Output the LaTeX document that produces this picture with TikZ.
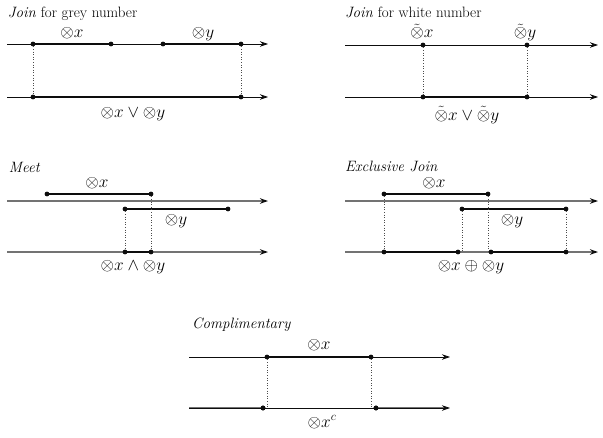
\documentclass[tikz,border=0pt]{standalone}
\usepackage{amsmath,amssymb}
\usetikzlibrary{arrows.meta}
\definecolor{OpInk}{gray}{0.05}
\definecolor{OpAxisGrey}{gray}{0.45}
\definecolor{OpGuide}{gray}{0.30}
\tikzset{
    ops/diagram/.style={
        x=1pt, y=-1pt,
        font=\fontsize{15}{18}\selectfont,
        line join=round,
        every node/.style={inner sep=0pt, outer sep=0pt}
    },
    ops/axis/.style={
        draw=OpInk, line width=0.7pt,
        -{Stealth[length=8pt, width=5.5pt]}
    },
    ops/greyaxis/.style={
        draw=OpAxisGrey, line width=1.3pt,
        -{Stealth[length=8pt, width=5.5pt, color=OpInk]}
    },
    ops/interval/.style={draw=OpInk, line width=1.3pt},
    ops/complement/.style={draw=OpAxisGrey, line width=1.5pt},
    ops/guide/.style={draw=OpGuide, line width=0.6pt, dotted},
    ops/point/.style={circle, fill=OpInk, draw=none, inner sep=1.7pt},
    ops/title/.style={anchor=base west},
    ops/label/.style={anchor=base, font=\fontsize{17}{20}\selectfont}
}

\begin{document}
\begin{tikzpicture}[ops/diagram]
    \useasboundingbox (0,0) rectangle (603,437);

    % join for grey number
    \node[ops/title] (tJoinGrey) at (8,17) {\textit{Join} for grey number};
    \coordinate (gA0) at (7,44);  \coordinate (gA1) at (268,44);
    \coordinate (gB0) at (7,97);  \coordinate (gB1) at (268,97);
    \draw[ops/axis] (gA0) -- (gA1);
    \draw[ops/axis] (gB0) -- (gB1);
    \node[ops/point] (gx1) at (33,44) {};
    \node[ops/point] (gx2) at (111,44) {};
    \node[ops/point] (gy1) at (163,44) {};
    \node[ops/point] (gy2) at (241,44) {};
    \node[ops/point] (gj1) at (33,97) {};
    \node[ops/point] (gj2) at (241,97) {};
    \draw[ops/interval] (gx1.center) -- (gx2.center);
    \draw[ops/interval] (gy1.center) -- (gy2.center);
    \draw[ops/interval] (gj1.center) -- (gj2.center);
    \draw[ops/guide] (gx1) -- (gj1);
    \draw[ops/guide] (gy2) -- (gj2);
    \node[ops/label] (lgx) at (72,37.5) {$\otimes x$};
    \node[ops/label] (lgy) at (203,37.5) {$\otimes y$};
    \node[ops/label] (lgj) at (133,117) {$\otimes x\vee\otimes y$};

    % join for white number
    \node[ops/title] (tJoinWhite) at (345,17) {\textit{Join} for white number};
    \coordinate (wA0) at (345,45);  \coordinate (wA1) at (598,45);
    \coordinate (wB0) at (345,97);  \coordinate (wB1) at (598,97);
    \draw[ops/axis] (wA0) -- (wA1);
    \draw[ops/axis] (wB0) -- (wB1);
    \node[ops/point] (wx) at (423,45) {};
    \node[ops/point] (wy) at (527,45) {};
    \node[ops/point] (wj1) at (423,97) {};
    \node[ops/point] (wj2) at (527,97) {};
    \draw[ops/interval] (wj1.center) -- (wj2.center);
    \draw[ops/guide] (wx) -- (wj1);
    \draw[ops/guide] (wy) -- (wj2);
    \node[ops/label] (lwx) at (422,37.7) {$\tilde{\otimes}x$};
    \node[ops/label] (lwy) at (525,37.7) {$\tilde{\otimes}y$};
    \node[ops/label] (lwj) at (467,120) {$\tilde{\otimes}x\vee\tilde{\otimes}y$};

    % meet
    \node[ops/title] (tMeet) at (9,172) {\textit{Meet}};
    \coordinate (mA0) at (7,201);  \coordinate (mA1) at (268,201);
    \coordinate (mB0) at (7,252);  \coordinate (mB1) at (268,252);
    \draw[ops/greyaxis] (mA0) -- (mA1);
    \draw[ops/greyaxis] (mB0) -- (mB1);
    \node[ops/point] (mx1) at (47,194) {};
    \node[ops/point] (mx2) at (151,194) {};
    \node[ops/point] (my1) at (125,209) {};
    \node[ops/point] (my2) at (228,209) {};
    \node[ops/point] (mm1) at (125,252) {};
    \node[ops/point] (mm2) at (151,252) {};
    \draw[ops/interval] (mx1.center) -- (mx2.center);
    \draw[ops/interval] (my1.center) -- (my2.center);
    \draw[ops/interval] (mm1.center) -- (mm2.center);
    \draw[ops/guide] (mx2) -- (mm2);
    \draw[ops/guide] (my1) -- (mm1);
    \node[ops/label] (lmx) at (97,187) {$\otimes x$};
    \node[ops/label] (lmy) at (176,224) {$\otimes y$};
    \node[ops/label] (lmm) at (133,270) {$\otimes x\wedge\otimes y$};

    % exclusive join
    \node[ops/title] (tExcl) at (345,171) {\textit{Exclusive Join}};
    \coordinate (eA0) at (345,201);  \coordinate (eA1) at (598,201);
    \coordinate (eB0) at (345,252);  \coordinate (eB1) at (598,252);
    \draw[ops/greyaxis] (eA0) -- (eA1);
    \draw[ops/greyaxis] (eB0) -- (eB1);
    \node[ops/point] (ex1) at (384,194) {};
    \node[ops/point] (ex2) at (488,194) {};
    \node[ops/point] (ey1) at (462,209) {};
    \node[ops/point] (ey2) at (566,209) {};
    \node[ops/point] (ej1) at (384,252) {};
    \node[ops/point] (ej2) at (458,252) {};
    \node[ops/point] (ej3) at (491,252) {};
    \node[ops/point] (ej4) at (566,252) {};
    \draw[ops/interval] (ex1.center) -- (ex2.center);
    \draw[ops/interval] (ey1.center) -- (ey2.center);
    \draw[ops/interval] (ej1.center) -- (ej2.center);
    \draw[ops/interval] (ej3.center) -- (ej4.center);
    \draw[ops/guide] (ex1) -- (ej1);
    \draw[ops/guide] (ey1) -- (ey1 |- eB0);
    \draw[ops/guide] (ex2) -- (ex2 |- eB0);
    \draw[ops/guide] (ey2) -- (ej4);
    \node[ops/label] (lex) at (434,187) {$\otimes x$};
    \node[ops/label] (ley) at (512,224) {$\otimes y$};
    \node[ops/label] (lej) at (471,270) {$\otimes x\oplus\otimes y$};

    % complimentary
    \node[ops/title] (tCompl) at (192,328) {\textit{Complimentary}};
    \coordinate (cA0) at (189,357);  \coordinate (cA1) at (450,357);
    \coordinate (cB0) at (189,408);  \coordinate (cB1) at (450,408);
    \node[ops/point] (cx1) at (267,357) {};
    \node[ops/point] (cx2) at (371,357) {};
    \node[ops/point] (cc1) at (263,408) {};
    \node[ops/point] (cc2) at (376,408) {};
    \draw[ops/complement] (cB0) -- (cc1.center);
    \draw[ops/complement] (cc2.center) -- ([xshift=-6pt]cB1);
    \draw[ops/axis] (cA0) -- (cA1);
    \draw[ops/axis] (cB0) -- (cB1);
    \draw[ops/interval] (cx1.center) -- (cx2.center);
    \node[ops/point] at (cc1) {};
    \node[ops/point] at (cc2) {};
    \draw[ops/guide] (cx1) -- (cx1 |- cB0);
    \draw[ops/guide] (cx2) -- (cx2 |- cB0);
    \node[ops/label] (lcx) at (319,349) {$\otimes x$};
    \node[ops/label] (lcc) at (322,427) {$\otimes x^{c}$};
\end{tikzpicture}
\end{document}
